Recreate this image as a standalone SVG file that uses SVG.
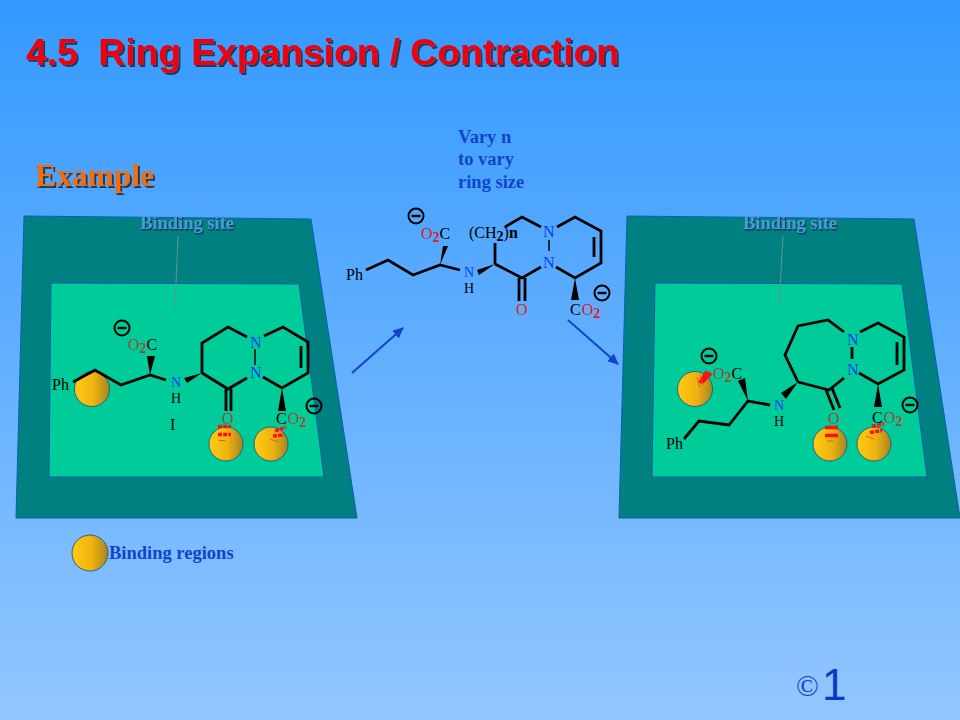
<svg xmlns="http://www.w3.org/2000/svg" width="960" height="720" viewBox="0 0 960 720">
<style>
.outer{fill:#008080;stroke:#0a5fb0;stroke-width:1}
.inner{fill:#00cc99;stroke:#0a5fb0;stroke-width:1}
.b{fill:none;stroke:#000;stroke-width:2.800;stroke-linejoin:miter;stroke-linecap:butt}
.w{fill:#000}
.lead{fill:none;stroke:#6f8f8a;stroke-width:1}
.a{font-family:"Liberation Serif",serif;font-size:16px;fill:#000}
.nh{font-size:14px}
.n{fill:#0a3cf0}
.o{fill:#e01a1a}
.od{fill:#a04a3a}
.s{font-size:14px;font-weight:bold}
.site{font-family:"Liberation Serif",serif;font-size:18.500px;font-weight:bold;fill:#4a9ad8;text-anchor:middle;filter:url(#sh1)}
.blue{font-family:"Liberation Serif",serif;font-size:18.500px;font-weight:bold;fill:#1144cc}
.ball{fill:url(#gold);stroke:#2a6080;stroke-width:1}
.hb{fill:none;stroke:#ff1010;stroke-width:3.400;stroke-dasharray:4 1.200}
.hbt{fill:none;stroke:#ee4020;stroke-width:.8}
.mc{fill:none;stroke:#000;stroke-width:2}
.ar{fill:none;stroke:#1144cc;stroke-width:2;marker-end:url(#ah)}
</style>
<defs>
<linearGradient id="bg" x1="0" y1="0" x2="0" y2="1"><stop offset="0" stop-color="#3399ff"/><stop offset="1" stop-color="#93c6ff"/></linearGradient>
<linearGradient id="gold" x1="0" y1="0" x2="1" y2="0"><stop offset="0" stop-color="#ffcc11"/><stop offset=".55" stop-color="#eeb211"/><stop offset="1" stop-color="#a88420"/></linearGradient>
<filter id="sh" x="-5%" y="-20%" width="110%" height="140%"><feDropShadow dx="2" dy="2" stdDeviation=".6" flood-color="#1c3a5a"/></filter>
<filter id="sh1" x="-5%" y="-20%" width="110%" height="140%"><feDropShadow dx="1" dy="1.500" stdDeviation=".4" flood-color="#123050"/></filter>
<marker id="ah" markerWidth="11" markerHeight="10" refX="10" refY="5" orient="auto" markerUnits="userSpaceOnUse"><path d="M0 0L11 5L0 10Z" fill="#1144cc"/></marker>
<g id="minus"><circle r="7.500" class="mc"/><path d="M-4.500 0H4.500" stroke="#000" stroke-width="2.400"/></g>
</defs>
<rect width="960" height="720" fill="url(#bg)"/>
<g id="title"><text x="26" y="65" font-family="Liberation Sans,sans-serif" font-size="37.200" font-weight="bold" fill="#ee0011" filter="url(#sh)" xml:space="preserve">4.5  Ring Expansion / Contraction</text></g>
<g id="example"><text x="35" y="186" font-family="Liberation Serif,serif" font-size="31.500" font-weight="bold" fill="#ee7011" filter="url(#sh)">Example</text></g>
<g id="vary"><text class="blue" x="458" y="143">Vary n</text><text class="blue" x="458" y="165">to vary</text><text class="blue" x="458" y="188">ring size</text></g>

<g id="left-site">
<path class="outer" d="M24 216L311 219L357 518L16 518Z"/>
<path class="inner" d="M51 283L299 284L324 477L49 477Z"/>
<text class="site" x="187" y="229">Binding site</text>
<path class="lead" d="M178 236L175 307"/>
<circle class="ball" cx="92" cy="389" r="17.500"/><circle class="ball" cx="226" cy="444" r="17"/><circle class="ball" cx="271" cy="444" r="17"/>
<path class="b" d="M73 382L95 370L121 385L150 375L166 380M202 373V343L228 327L247 337M202 373L228 389L247 378M263 377L282 388L308 373V342L283 327L264 336M301 346V368M226 389V411M231 389V411"/>
<path class="b" style="stroke-width:1.500" d="M255 349V365"/>
<path class="w" d="M150 375L147 356H155ZM202 373L184 378L187 383ZM282 388L278 411H286Z"/>
<use href="#minus" x="122" y="328"/><use href="#minus" x="314" y="406"/>
<text class="a" x="52" y="390">Ph</text>
<text class="a" x="128" y="350"><tspan class="od">O</tspan><tspan class="od s" dy="3">2</tspan><tspan dy="-3">C</tspan></text>
<text class="a nh n" x="171" y="387">N</text><text class="a nh" x="171" y="402.500">H</text>
<text class="a n" x="250" y="348">N</text><text class="a n" x="250" y="378">N</text>
<text class="a" x="170" y="430">I</text>
<text class="a od" x="222" y="424">O</text>
<text class="a" x="276" y="424">C<tspan class="od" dx="1">O</tspan><tspan class="od s" dy="3">2</tspan></text>
<path class="hb" d="M218 426.500H231M218 434.500H231"/><path class="hbt" d="M219 440.500H225"/>
<path class="hb" d="M275 431L286 427M273 436L284 435"/><path class="hbt" d="M270 439L278 442"/>
</g>

<g id="middle-molecule">
<path class="b" d="M366 270L388 260L413 275L440 265L460 270M495 264V243M495 264L522 278L541 267M505 227L522 217L541 227M556 267L575 278L601 263V231L575 217L557 227M594 237V257M519 278V301M525 278V301"/>
<path class="b" style="stroke-width:1.500" d="M549 240V251"/>
<path class="w" d="M440 265L443 246H448ZM495 264L477 270L479 275ZM575 278L571 300H579Z"/>
<use href="#minus" x="416" y="216"/><use href="#minus" x="602" y="293"/>
<text class="a" x="346" y="280">Ph</text>
<text class="a" x="421" y="239"><tspan class="o">O</tspan><tspan class="o s" dy="3">2</tspan><tspan dy="-3">C</tspan></text>
<text class="a" x="469" y="238">(CH<tspan class="s" dy="3">2</tspan><tspan dy="-3">)</tspan><tspan font-weight="bold">n</tspan></text>
<text class="a n" x="543" y="237">N</text><text class="a n" x="543" y="268">N</text>
<text class="a nh n" x="464" y="277">N</text><text class="a nh" x="464" y="292.500">H</text>
<text class="a o" x="516" y="315">O</text>
<text class="a" x="570" y="315">C<tspan class="o" dx="1">O</tspan><tspan class="o s" dy="3">2</tspan></text>
</g>

<g id="connectors">
<path class="ar" d="M352 373L403 328"/>
<path class="ar" d="M568 320L618 364"/>
</g>

<g id="right-site">
<path class="outer" d="M627 216L914 219L960 518L619 518Z"/>
<path class="inner" d="M655 283L902 284L927 477L652 477Z"/>
<text class="site" x="790" y="229">Binding site</text>
<path class="lead" d="M783 236L779 307"/>
<circle class="ball" cx="695" cy="389" r="17.500"/><circle class="ball" cx="830" cy="444" r="17"/><circle class="ball" cx="874" cy="444" r="17"/>
<path class="b" d="M684 439L699 421L729 425L748 401L770 405M798 382L785 355L798 326L828 320L844 332M798 382L829 390L844 378M859 373L878 384L904 370V337L878 323L860 332M897 342V365M826 390L834 410M832 388L840 408"/>
<path class="b" d="M852 347V359"/>
<path class="w" d="M748 401L738 381L745 378ZM798 382L781 393L786 399ZM878 384L874 407H882Z"/>
<use href="#minus" x="709" y="356"/><use href="#minus" x="910" y="405"/>
<text class="a" x="666" y="449">Ph</text>
<text class="a" x="713" y="379"><tspan class="od">O</tspan><tspan class="od s" dy="3">2</tspan><tspan dy="-3">C</tspan></text>
<text class="a nh n" x="774" y="410">N</text><text class="a nh" x="774" y="425.500">H</text>
<text class="a n" x="847" y="345">N</text><text class="a n" x="847" y="375">N</text>
<text class="a od" x="828" y="424">O</text>
<text class="a" x="872" y="423">C<tspan class="od" dx="1">O</tspan><tspan class="od s" dy="3">2</tspan></text>
<path class="hb" d="M711 373L702 382" style="stroke-dasharray:none;stroke-width:4"/><path class="hb" d="M707 371L700 383" style="stroke-dasharray:none"/><path class="hbt" d="M697 377L700 387M700 375L703 385"/>
<path class="hb" d="M825 427.500H838M825 435.500H838" style="stroke-dasharray:none"/><path class="hbt" d="M827 441H833"/>
<path class="hb" d="M872 426L884 424M870 432.500L882 430.500"/><path class="hbt" d="M866 436L874 439"/>
</g>

<g id="legend">
<circle class="ball" cx="90" cy="553" r="18"/>
<text class="blue" x="109" y="559">Binding regions</text>
</g>
<g id="footer">
<text x="796" y="696" font-family="Liberation Serif,serif" font-size="30" fill="#1144cc">©</text>
<text x="822" y="700" font-family="Liberation Sans,sans-serif" font-size="44" fill="#0a3ac0">1</text>
</g>
</svg>
